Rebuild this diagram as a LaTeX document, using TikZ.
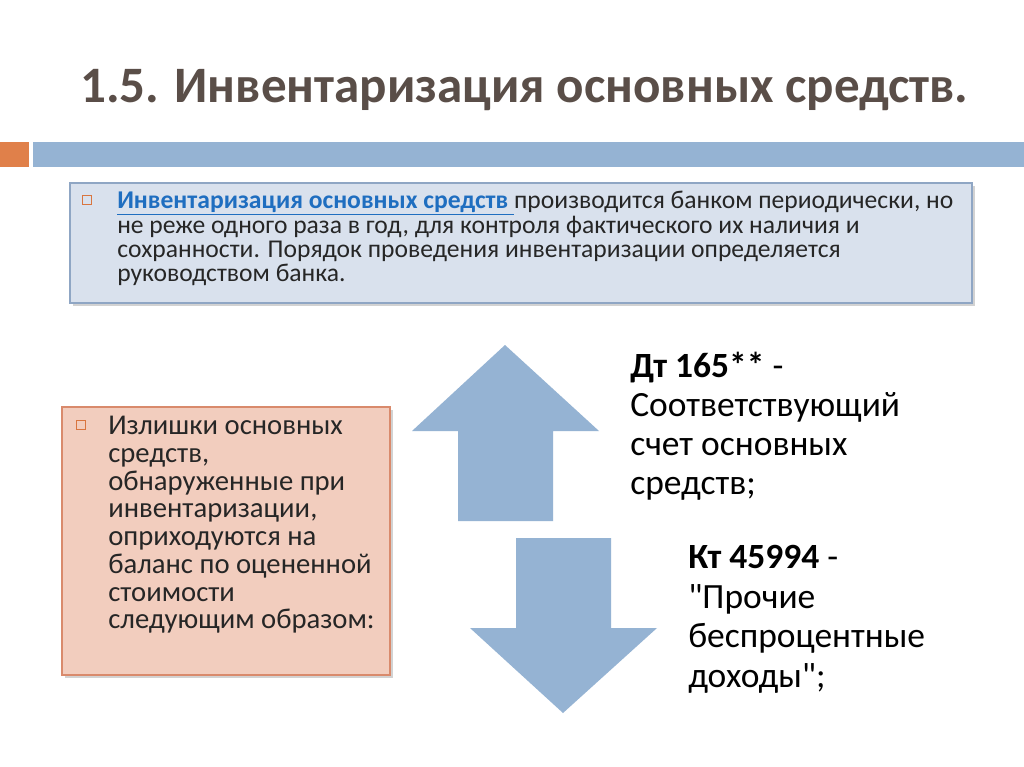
\documentclass[tikz,border=0pt]{standalone}
\usepackage{fontspec}
\setmainfont{Carlito}
\newfontfamily\rawfont{Carlito}
\usetikzlibrary{shadows}
\definecolor{titlec}{HTML}{5A4E48}
\definecolor{orangebar}{HTML}{E0804A}
\definecolor{bluebar}{HTML}{95B3D3}
\definecolor{topfill}{HTML}{D9E1ED}
\definecolor{topdraw}{HTML}{8FA6C4}
\definecolor{leftfill}{HTML}{F2CDBE}
\definecolor{leftdraw}{HTML}{D98A6C}
\definecolor{linkc}{HTML}{1F6EC0}
\definecolor{txt}{HTML}{262626}
\definecolor{bulletc}{HTML}{D9753F}
\tikzset{
  box/.style={drop shadow={opacity=0.35,shadow xshift=2pt,shadow yshift=-2.5pt}},
  arrowshape/.style={fill=bluebar,draw=none},
  bodytext/.style={inner sep=0pt,anchor=north west,align=left,text=txt},
  bul/.style={draw=bulletc,line width=0.6pt,fill=none,minimum size=6.5pt,inner sep=0pt}
}
\begin{document}
\begin{tikzpicture}[x=0.75pt,y=-0.75pt]
\useasboundingbox (0,0) rectangle (1024,767);
\fill[white] (0,0) rectangle (1024,767);
% title
\node[anchor=west,inner sep=0pt,text=titlec,font=\fontsize{38.3}{44}\selectfont\bfseries] (title) at (80,90) {1.5. Инвентаризация основных средств.};
% bars
\fill[orangebar] (0,142) rectangle (29,167);
\fill[bluebar] (33,142) rectangle (1024,167);
% top box
\path[box,fill=topfill,draw=topdraw,line width=0.8pt] (70,183) rectangle (972,303);
\node[bul] (b1) at (87,200) {};
\node[bodytext,font=\fontsize{19.2}{18.3}\selectfont] (toptext) at (117,191) {{\color{linkc}\bfseries\underline{Инвентаризация основных средств }}производится банком периодически, но\\не реже одного раза в год, для контроля фактического их наличия и\\сохранности. Порядок проведения инвентаризации определяется\\руководством банка.};
% left box
\path[box,fill=leftfill,draw=leftdraw,line width=0.8pt] (62,407) rectangle (390,675);
\node[bul] (b2) at (81,425) {};
\node[bodytext,font=\fontsize{21.5}{20.8}\selectfont] (lefttext) at (108,416) {Излишки основных\\средств,\\обнаруженные при\\инвентаризации,\\оприходуются на\\баланс по оцененной\\стоимости\\следующим образом:};
% arrows
\path[arrowshape] (505,345) -- (599,431) -- (553,431) -- (553,521) -- (458,521) -- (458,431) -- (412,431) -- cycle;
\path[arrowshape] (516,538) -- (611,538) -- (611,628) -- (657,628) -- (563,713) -- (470,628) -- (516,628) -- cycle;
% right texts
\node[bodytext,text=black,font=\fontsize{26.6}{29.3}\selectfont] (dt) at (630,352) {\textbf{Дт 165**} -\\Соответствующий\\счет основных\\средств;};
\node[bodytext,text=black,font=\fontsize{26.6}{29.8}\selectfont] (kt) at (688,545) {\textbf{Кт 45994} -\\{\rawfont"}Прочие\\беспроцентные\\доходы{\rawfont"};};
\end{tikzpicture}
\end{document}
